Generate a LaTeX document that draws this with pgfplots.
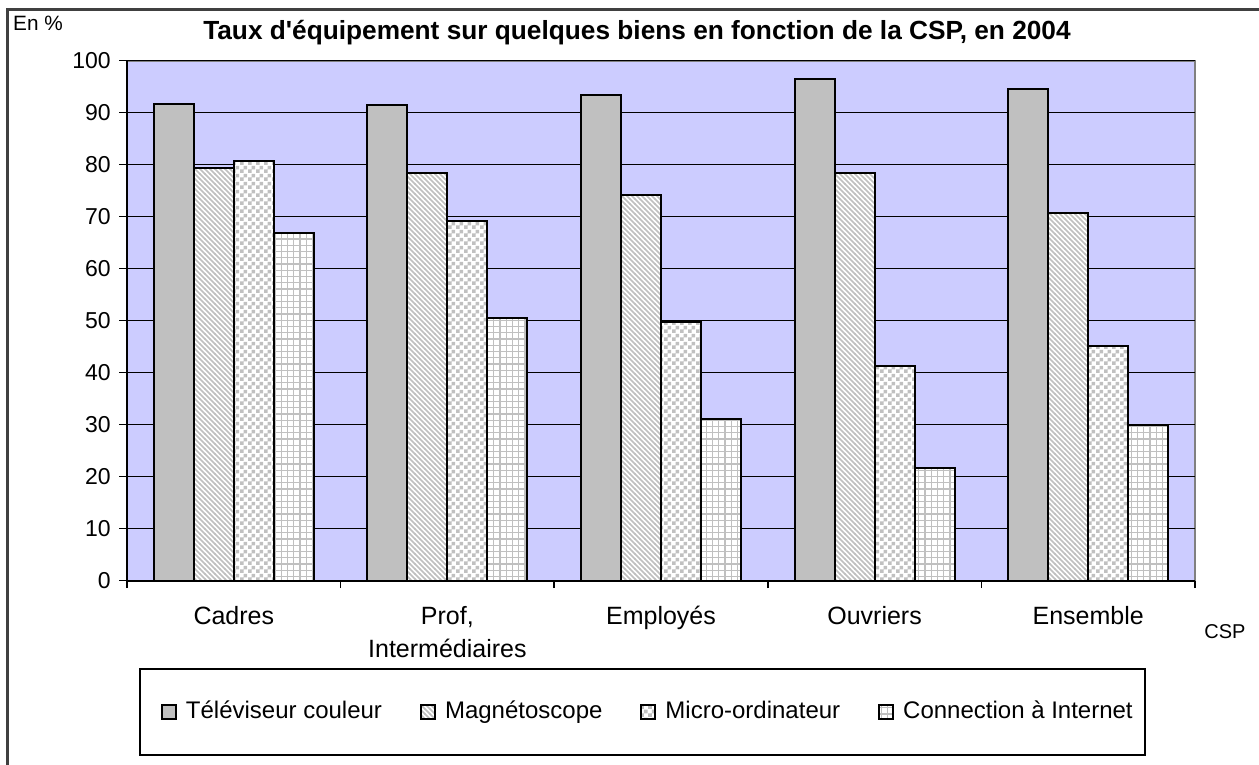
\documentclass[border=0pt]{standalone}
\usepackage{fontspec}
\setmainfont{Liberation Sans}
\newfontfamily\plainfont{Liberation Sans}
\usepackage{pgfplots}
\pgfplotsset{compat=1.18}
\usetikzlibrary{patterns}

\definecolor{plotbg}{RGB}{204,204,255}
\definecolor{tvgray}{RGB}{192,192,192}
\definecolor{patgray}{RGB}{192,192,192}
\definecolor{framegray}{RGB}{64,64,64}

\pgfdeclarepatternformonly{diagnw}{\pgfqpoint{-1pt}{-1pt}}{\pgfqpoint{3pt}{3pt}}{\pgfqpoint{2pt}{2pt}}{%
  \pgfsetlinewidth{0.6pt}%
  \pgfpathmoveto{\pgfqpoint{-0.1pt}{2.1pt}}\pgfpathlineto{\pgfqpoint{2.1pt}{-0.1pt}}%
  \pgfusepath{stroke}}
\pgfdeclarepatternformonly{mychecker}{\pgfqpoint{0pt}{0pt}}{\pgfqpoint{3.2pt}{3.2pt}}{\pgfqpoint{3.2pt}{3.2pt}}{%
  \pgfpathrectangle{\pgfqpoint{0pt}{0pt}}{\pgfqpoint{1.6pt}{1.6pt}}%
  \pgfpathrectangle{\pgfqpoint{1.6pt}{1.6pt}}{\pgfqpoint{1.6pt}{1.6pt}}%
  \pgfusepath{fill}}
\pgfdeclarepatternformonly{mygrid}{\pgfqpoint{-0.5pt}{-0.5pt}}{\pgfqpoint{3pt}{3pt}}{\pgfqpoint{2.5pt}{2.5pt}}{%
  \pgfsetlinewidth{0.5pt}%
  \pgfpathmoveto{\pgfqpoint{0pt}{0pt}}\pgfpathlineto{\pgfqpoint{2.5pt}{0pt}}%
  \pgfpathmoveto{\pgfqpoint{0pt}{0pt}}\pgfpathlineto{\pgfqpoint{0pt}{2.5pt}}%
  \pgfusepath{stroke}}

\pgfplotstableread{
x tv mag micro net
0 91.7 79.4 80.6 66.8
1 91.4 78.3 69.1 50.4
2 93.3 74.1 49.8 31.0
3 96.4 78.3 41.3 21.6
4 94.5 70.6 45.1 30.0
}\datatable

\begin{document}
\begin{tikzpicture}
\useasboundingbox (0,0) rectangle (503.6pt,305.6pt);
\draw[line width=1.2pt, framegray] (2.8pt,-2pt) -- (2.8pt,301.6pt) -- (506pt,301.6pt);
\begin{axis}[
  at={(50.8pt,73.4pt)}, anchor=south west,
  width=427.2pt, height=208pt, scale only axis,
  ybar=0pt, bar width=16pt,
  xmin=-0.5, xmax=4.5, ymin=0, ymax=100,
  axis x line*=bottom, axis y line*=left,
  axis line style={-, black, line width=0.8pt},
  axis background/.style={fill=plotbg, draw=gray, line width=0.8pt},
  xtick={-0.5,0.5,1.5,2.5,3.5,4.5},
  xticklabels={},
  extra x ticks={0,1,2,3,4},
  extra x tick labels={Cadres,{Prof,\\Intermédiaires},Employés,Ouvriers,Ensemble},
  extra x tick style={major tick length=0pt, grid=none,
     typeset ticklabels with strut,
     tick label style={align=center, font=\fontsize{10}{13.2}\selectfont, yshift=-4.8pt}},
  ytick={0,10,...,100},
  ymajorgrids,
  grid style={black, line width=0.6pt},
  tick align=outside,
  major tick length=3pt,
  tick style={black, line width=0.7pt},
  y tick label style={font=\fontsize{9.2}{11}\selectfont},
  /pgf/number format/assume math mode=true,
  title={Taux d{\plainfont'}équipement sur quelques biens en fonction de la CSP, en 2004},
  every axis title/.style={at={(axis description cs:0.4775,1.053)}, anchor=center, font=\fontsize{10.5}{12}\selectfont\bfseries},
  ylabel={En \%},
  every axis y label/.style={at={(axis description cs:-0.0833,1.072)}, anchor=center, font=\fontsize{8.3}{9}\selectfont},
  xlabel={CSP},
  every axis x label/.style={at={(axis description cs:1.028,-0.099)}, anchor=center, font=\fontsize{8}{9}\selectfont},
  legend columns=4,
  legend style={at={(axis description cs:0.0112,-0.168)}, anchor=north west, draw=black, line width=0.8pt,
    inner xsep=4.8pt, inner ysep=10.4pt, font=\fontsize{9.6}{11}\selectfont,
    nodes={text height=7.4pt, text depth=2.2pt, inner xsep=0pt},
    /tikz/every odd column/.append style={column sep=3.6pt},
    /tikz/every even column/.append style={column sep=11.6pt}},
  legend image code/.code={\path (-3.6pt,0pt); \draw[#1] (0pt,-2.8pt) rectangle (5.6pt,2.8pt);},
]
\addplot[draw=black, line width=0.8pt, fill=tvgray] table[x=x,y=tv]{\datatable};
\addlegendentry{Téléviseur couleur}
\addplot[draw=black, line width=0.8pt, fill=white, postaction={pattern=diagnw, pattern color=patgray}] table[x=x,y=mag]{\datatable};
\addlegendentry{Magnétoscope}
\addplot[draw=black, line width=0.8pt, fill=white, postaction={pattern=mychecker, pattern color=patgray}] table[x=x,y=micro]{\datatable};
\addlegendentry{Micro-ordinateur}
\addplot[draw=black, line width=0.8pt, fill=white, postaction={pattern=mygrid, pattern color=patgray}] table[x=x,y=net]{\datatable};
\addlegendentry{Connection à Internet}
\end{axis}
\end{tikzpicture}
\end{document}
